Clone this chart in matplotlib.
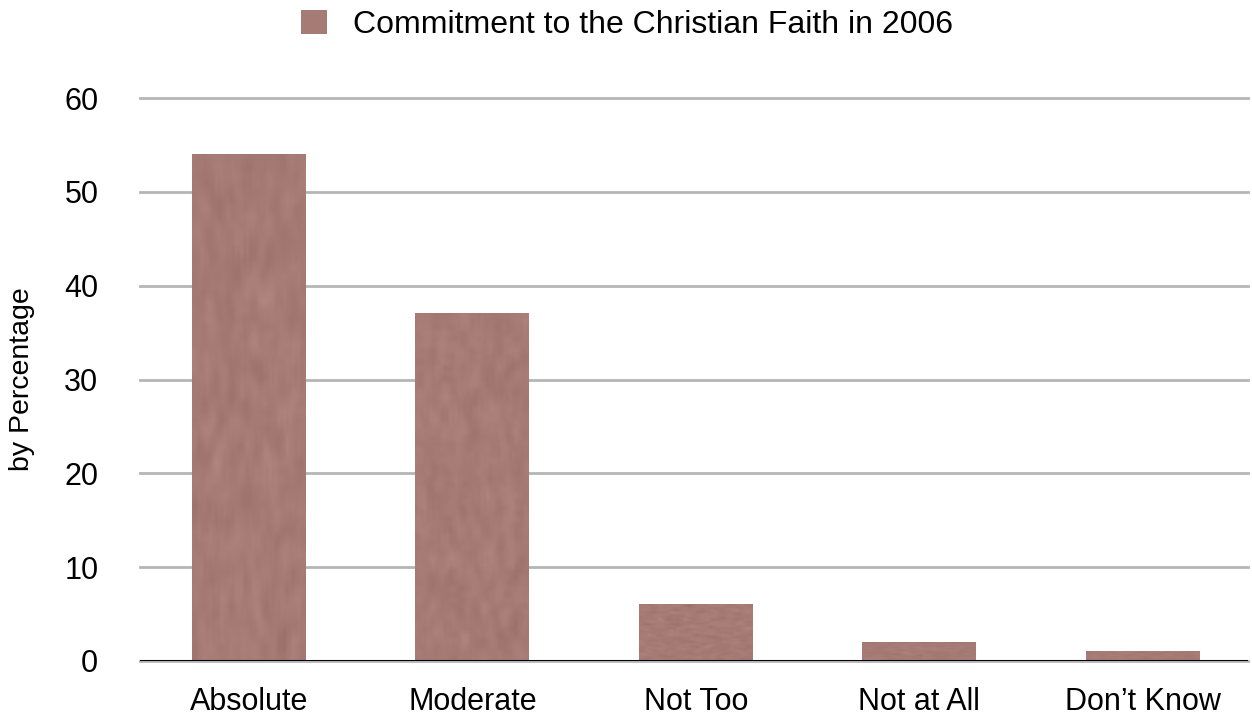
import numpy as np
import matplotlib
matplotlib.use("Agg")
import matplotlib.pyplot as plt

plt.rcParams["font.family"] = ["Liberation Sans", "DejaVu Sans"]

categories = ["Absolute", "Moderate", "Not Too", "Not at All", "Don\u2019t Know"]
percent = [54, 37, 6, 2, 1]
series_name = "Commitment to the Christian Faith in 2006"
y_ticks = [0, 10, 20, 30, 40, 50, 60]

bar_color = "#a67b76"

fig = plt.figure(figsize=(12.52, 7.21), dpi=100)
ax = fig.add_axes([140 / 1252, 60 / 721, 1108 / 1252, 563 / 721])

x = np.arange(len(categories))
bars = ax.bar(x, percent, width=0.51, color=bar_color, label=series_name, zorder=2)

# paper-like grain on each bar
rng = np.random.default_rng(7)
for b in bars:
    noise = rng.normal(0, 1, (60, 40))
    k = np.ones(3) / 3
    noise = np.apply_along_axis(lambda r: np.convolve(r, k, mode="same"), 1, noise)
    noise = np.apply_along_axis(lambda c: np.convolve(c, k, mode="same"), 0, noise)
    base = np.array(matplotlib.colors.to_rgb(bar_color))
    tex = np.clip(base[None, None, :] + 0.035 * noise[:, :, None], 0, 1)
    x0 = b.get_x()
    ax.imshow(tex, extent=(x0, x0 + b.get_width(), 0, b.get_height()),
              aspect="auto", interpolation="bilinear", zorder=3)

ax.set_xlim(-0.487, 4.47)
ax.set_ylim(0, 60)
ax.set_yticks(y_ticks)
ax.set_xticks(x, labels=categories)
ax.grid(axis="y", color="#b5b5b5", linewidth=2, zorder=0)
ax.axhline(0, color="black", linewidth=2.2, zorder=4)
for line in ax.get_ygridlines():
    line.set_clip_on(False)

for s in ax.spines.values():
    s.set_visible(False)
ax.tick_params(axis="both", length=0, labelsize=22)
ax.tick_params(axis="y", pad=30)
ax.tick_params(axis="x", pad=19)
ax.set_ylabel("by Percentage", fontsize=20.5, labelpad=21)

fig.legend(handles=[bars], labels=[series_name], loc="center",
           bbox_to_anchor=(627 / 1252, 1 - 25 / 721), frameon=False,
           fontsize=23, handlelength=0.8, handleheight=0.8, handletextpad=0.8)

fig.savefig("out.png", dpi=100)
